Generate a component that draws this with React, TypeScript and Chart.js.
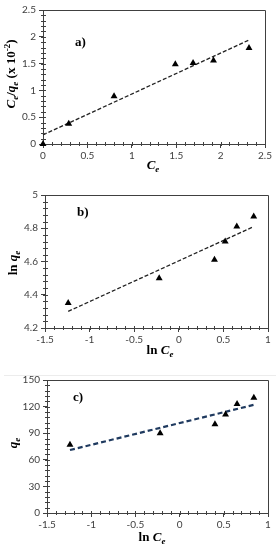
import React, { useEffect, useRef } from "react";
import { Chart, registerables } from "chart.js";

Chart.register(...registerables);

// ---- Data ----
const aCe = [0, 0.29, 0.8, 1.49, 1.69, 1.92, 2.32];
const aCeQe = [0, 0.38, 0.89, 1.49, 1.51, 1.56, 1.79];
const aFitX = [0, 2.32];
const aFitY = [0.17, 1.94];

const bLnCe = [-1.24, -0.22, 0.4, 0.52, 0.65, 0.84];
const bLnQe = [4.35, 4.5, 4.61, 4.72, 4.81, 4.87];
const bFitX = [-1.24, 0.84];
const bFitY = [4.3, 4.81];

const cLnCe = [-1.24, -0.22, 0.4, 0.52, 0.65, 0.84];
const cQe = [77, 90, 100, 111, 123, 130];
const cFitX = [-1.24, 0.84];
const cFitY = [71, 122];

const aXTicks = [0, 0.5, 1, 1.5, 2, 2.5];
const aYTicks = [0, 0.5, 1, 1.5, 2, 2.5];
const bXTicks = [-1.5, -1, -0.5, 0, 0.5, 1];
const bYTicks = [4.2, 4.4, 4.6, 4.8, 5];
const cXTicks = [-1.5, -1, -0.5, 0, 0.5, 1];
const cYTicks = [0, 30, 60, 90, 120, 150];

type Part = [string, string];

const AXIS = "#404040";
const TITLE_FONT = '"Liberation Serif", "Times New Roman", serif';

function drawRich(ctx: CanvasRenderingContext2D, parts: Part[], cx: number, cy: number, rotate: boolean, size: number) {
  const fontFor = (st: string) => {
    const small = st.includes("sub") || st.includes("sup");
    const it = st.includes("i");
    const sz = small ? Math.round(size * 0.72) : size;
    return `${it ? "italic " : ""}bold ${sz}px ${TITLE_FONT}`;
  };
  ctx.save();
  let total = 0;
  for (const [t, st] of parts) {
    ctx.font = fontFor(st);
    total += ctx.measureText(t).width;
  }
  ctx.translate(cx, cy);
  if (rotate) ctx.rotate(-Math.PI / 2);
  ctx.fillStyle = "#000";
  ctx.textBaseline = "middle";
  ctx.textAlign = "left";
  let x = -total / 2;
  for (const [t, st] of parts) {
    ctx.font = fontFor(st);
    let dy = 0;
    if (st.includes("sub")) dy = size * 0.3;
    if (st.includes("sup")) dy = -size * 0.35;
    ctx.fillText(t, x, dy);
    x += ctx.measureText(t).width;
  }
  ctx.restore();
}

interface Cfg {
  h: number;
  top: number;
  left: number;
  right: number;
  bottom: number;
  xs: number[];
  ys: number[];
  fx: number[];
  fy: number[];
  xTicks: number[];
  yTicks: number[];
  xMinor: number;
  yMinor: number;
  label: string;
  labelX: number;
  labelY: number;
  xTitle: Part[];
  xTitlePos: [number, number];
  yTitle: Part[];
  yTitlePos: [number, number];
  fitColor: string;
  fitWidth: number;
  fitDash: number[];
  sepLine?: number;
}

function ChartPanel({ cfg }: { cfg: Cfg }) {
  const ref = useRef<HTMLCanvasElement | null>(null);
  useEffect(() => {
    const canvas = ref.current!;
    const xMin = cfg.xTicks[0], xMax = cfg.xTicks[cfg.xTicks.length - 1];
    const yMin = cfg.yTicks[0], yMax = cfg.yTicks[cfg.yTicks.length - 1];
    const deco = {
      id: "deco",
      beforeDraw(chart: any) {
        const ctx = chart.ctx as CanvasRenderingContext2D;
        if (cfg.sepLine !== undefined) {
          ctx.save();
          ctx.strokeStyle = "#ececec";
          ctx.lineWidth = 1;
          ctx.beginPath();
          ctx.moveTo(4, cfg.sepLine + 0.5);
          ctx.lineTo(276, cfg.sepLine + 0.5);
          ctx.stroke();
          ctx.restore();
        }
      },
      afterDraw(chart: any) {
        const ctx = chart.ctx as CanvasRenderingContext2D;
        const a = chart.chartArea;
        const xs = chart.scales.x, ys = chart.scales.y;
        ctx.save();
        ctx.strokeStyle = AXIS;
        ctx.lineWidth = 1;
        // top & right border
        ctx.beginPath();
        ctx.moveTo(Math.round(a.left) + 0.5, Math.round(a.top) + 0.5);
        ctx.lineTo(Math.round(a.right) + 0.5, Math.round(a.top) + 0.5);
        ctx.lineTo(Math.round(a.right) + 0.5, Math.round(a.bottom) + 0.5);
        ctx.stroke();
        // minor ticks
        ctx.beginPath();
        const nx = Math.round((xMax - xMin) / cfg.xMinor);
        for (let i = 1; i < nx; i++) {
          const v = xMin + i * cfg.xMinor;
          const px = Math.round(xs.getPixelForValue(v)) + 0.5;
          ctx.moveTo(px, Math.round(a.bottom) - 2);
          ctx.lineTo(px, Math.round(a.bottom) + 2);
        }
        const ny = Math.round((yMax - yMin) / cfg.yMinor);
        for (let i = 1; i < ny; i++) {
          const v = yMin + i * cfg.yMinor;
          const py = Math.round(ys.getPixelForValue(v)) + 0.5;
          ctx.moveTo(Math.round(a.left) - 2, py);
          ctx.lineTo(Math.round(a.left) + 3, py);
        }
        ctx.stroke();
        ctx.restore();
        // panel label
        ctx.save();
        ctx.fillStyle = "#000";
        ctx.font = `bold 13px ${TITLE_FONT}`;
        ctx.textBaseline = "middle";
        ctx.fillText(cfg.label, cfg.labelX, cfg.labelY);
        ctx.restore();
        drawRich(ctx, cfg.xTitle, cfg.xTitlePos[0], cfg.xTitlePos[1], false, 13);
        drawRich(ctx, cfg.yTitle, cfg.yTitlePos[0], cfg.yTitlePos[1], true, 13);
      },
    };
    const fmt = (v: any) => String(+Number(v).toFixed(2));
    const chart = new Chart(canvas, {
      type: "scatter",
      data: {
        datasets: [
          {
            type: "line",
            data: cfg.fx.map((x, i) => ({ x, y: cfg.fy[i] })),
            borderColor: cfg.fitColor,
            borderWidth: cfg.fitWidth,
            borderDash: cfg.fitDash,
            pointRadius: 0,
            fill: false,
            clip: false,
            order: 2,
          } as any,
          {
            data: cfg.xs.map((x, i) => ({ x, y: cfg.ys[i] })),
            pointStyle: "triangle",
            pointRadius: 4,
            backgroundColor: "#000",
            borderColor: "#000",
            borderWidth: 0,
            clip: false,
            order: 1,
          } as any,
        ],
      },
      options: {
        animation: false,
        responsive: false,
        events: [],
        layout: { padding: { top: cfg.top, right: 280 - cfg.right, left: 0, bottom: 0 } },
        plugins: { legend: { display: false }, tooltip: { enabled: false } },
        scales: {
          x: {
            type: "linear",
            min: xMin,
            max: xMax,
            afterBuildTicks: (s: any) => {
              s.ticks = cfg.xTicks.map((v) => ({ value: v }));
            },
            afterFit: (s: any) => {
              s.height = cfg.h - cfg.bottom;
            },
            ticks: {
              callback: fmt,
              color: AXIS,
              font: { family: "Lato", size: 10 },
              padding: 2,
              maxRotation: 0,
              autoSkip: false,
            },
            grid: { drawOnChartArea: false, drawTicks: true, tickLength: 4, color: AXIS },
            border: { display: true, color: AXIS },
          },
          y: {
            type: "linear",
            min: yMin,
            max: yMax,
            afterBuildTicks: (s: any) => {
              s.ticks = cfg.yTicks.map((v) => ({ value: v }));
            },
            afterFit: (s: any) => {
              s.width = cfg.left;
            },
            ticks: {
              callback: fmt,
              color: AXIS,
              font: { family: "Lato", size: 10 },
              padding: 3,
              autoSkip: false,
            },
            grid: { drawOnChartArea: false, drawTicks: true, tickLength: 4, color: AXIS },
            border: { display: true, color: AXIS },
          },
        },
      } as any,
      plugins: [deco],
    });
    return () => chart.destroy();
  }, [cfg]);
  return <canvas ref={ref} width={280} height={cfg.h} style={{ display: "block", width: 280, height: cfg.h }} />;
}

const cfgA: Cfg = {
  h: 180, top: 10, left: 43, right: 265, bottom: 144,
  xs: aCe, ys: aCeQe, fx: aFitX, fy: aFitY,
  xTicks: aXTicks, yTicks: aYTicks, xMinor: 0.1, yMinor: 0.1,
  label: "a)", labelX: 75, labelY: 43,
  xTitle: [["C", "i"], ["e", "isub"]], xTitlePos: [153, 166],
  yTitle: [["C", "i"], ["e", "isub"], ["/", "n"], ["q", "i"], ["e", "isub"], [" (x 10", "n"], ["-2", "sup"], [")", "n"]],
  yTitlePos: [12, 74],
  fitColor: "#222", fitWidth: 1.3, fitDash: [4, 2],
};

const cfgB: Cfg = {
  h: 180, top: 15, left: 45, right: 268, bottom: 148,
  xs: bLnCe, ys: bLnQe, fx: bFitX, fy: bFitY,
  xTicks: bXTicks, yTicks: bYTicks, xMinor: 0.1, yMinor: 0.04,
  label: "b)", labelX: 77, labelY: 33,
  xTitle: [["ln ", "n"], ["C", "i"], ["e", "isub"]], xTitlePos: [160, 171],
  yTitle: [["ln ", "n"], ["q", "i"], ["e", "isub"]], yTitlePos: [14, 83],
  fitColor: "#222", fitWidth: 1.3, fitDash: [4, 2],
};

const cfgC: Cfg = {
  h: 190, top: 20, left: 47, right: 268, bottom: 153,
  xs: cLnCe, ys: cQe, fx: cFitX, fy: cFitY,
  xTicks: cXTicks, yTicks: cYTicks, xMinor: 0.1, yMinor: 6,
  label: "c)", labelX: 73, labelY: 38,
  xTitle: [["ln ", "n"], ["C", "i"], ["e", "isub"]], xTitlePos: [152, 178],
  yTitle: [["q", "i"], ["e", "isub"]], yTitlePos: [14, 83],
  fitColor: "#1f3a5f", fitWidth: 2.2, fitDash: [5, 3],
  sepLine: 15,
};

export default function App() {
  return (
    <div style={{ position: "absolute", left: 0, top: 0, width: 280, height: 550, background: "#fff" }}>
      <ChartPanel cfg={cfgA} />
      <ChartPanel cfg={cfgB} />
      <ChartPanel cfg={cfgC} />
    </div>
  );
}
